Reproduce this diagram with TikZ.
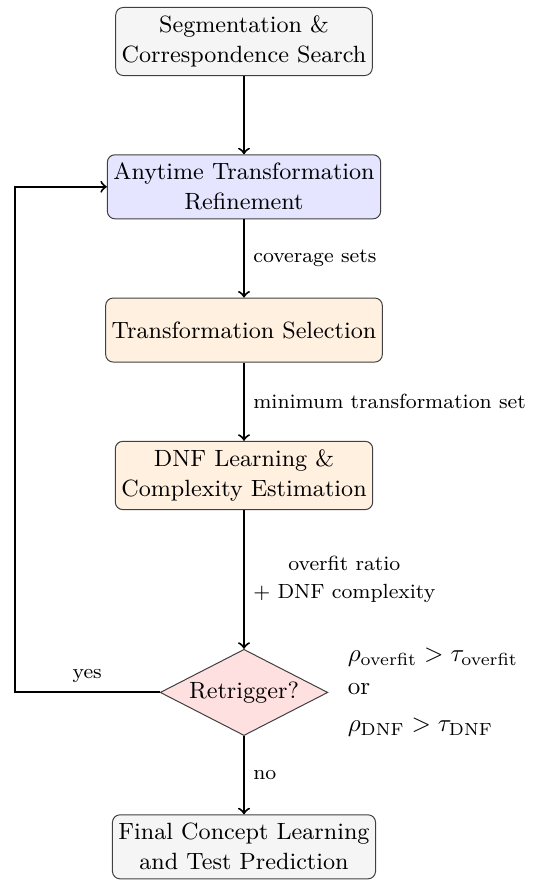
\documentclass[tikz,border=0pt]{standalone}
\usetikzlibrary{positioning,shapes.geometric}

\begin{document}
\begin{tikzpicture}[
  node distance=1.1cm,
  box/.style={rectangle,draw=black!75,rounded corners=3pt,align=center,minimum height=0.9cm,fill=gray!8,
    inner xsep=2.4pt,font=\fontsize{9.4pt}{12pt}\selectfont},
  check/.style={diamond,draw=black!75,aspect=2,inner sep=1pt,minimum width=67pt,minimum height=34.5pt,fill=red!12,
    font=\fontsize{9.4pt}{12pt}\selectfont},
  arr/.style={->, thick},
  lbl/.style={font=\fontsize{8.2pt}{11pt}\selectfont}
]
\useasboundingbox (-97.6pt,-337pt) rectangle (122.4pt,16.6pt);
\node[box] (seg) {Segmentation \&\\Correspondence Search};
\node[box, below=of seg, fill=blue!10] (refine) {Anytime Transformation\\Refinement};
\node[box, below=of refine, fill=orange!12] (select) {Transformation Selection};
\node[box, below=of select, fill=orange!12] (dnf) {DNF Learning \&\\Complexity Estimation};
\node[check, below=1.95cm of dnf] (ret) {Retrigger?};
\node[box, below=of ret] (final) {Final Concept Learning\\and Test Prediction};

\draw[arr] (seg) -- (refine);
\draw[arr] (refine) -- node[lbl, right] {coverage sets} (select);
\draw[arr] (select) -- node[lbl, right] {minimum transformation set} (dnf);
\draw[arr] (dnf) -- node[lbl, right, align=center] {overfit ratio\\+ DNF complexity} (ret);
\draw[arr] (ret) -- node[lbl, right] {no} (final);
\draw[arr] (ret.west) -- node[lbl, above] {yes} ++(-58pt,0) |- (refine.west);

% Retrigger condition
\node[right=0.15cm of ret, align=left] (cond) {$\rho_{\mathrm{overfit}} > \tau_{\mathrm{overfit}}$\\[1pt]or\\[3pt]$\rho_{\mathrm{DNF}} > \tau_{\mathrm{DNF}}$};
\end{tikzpicture}
\end{document}
